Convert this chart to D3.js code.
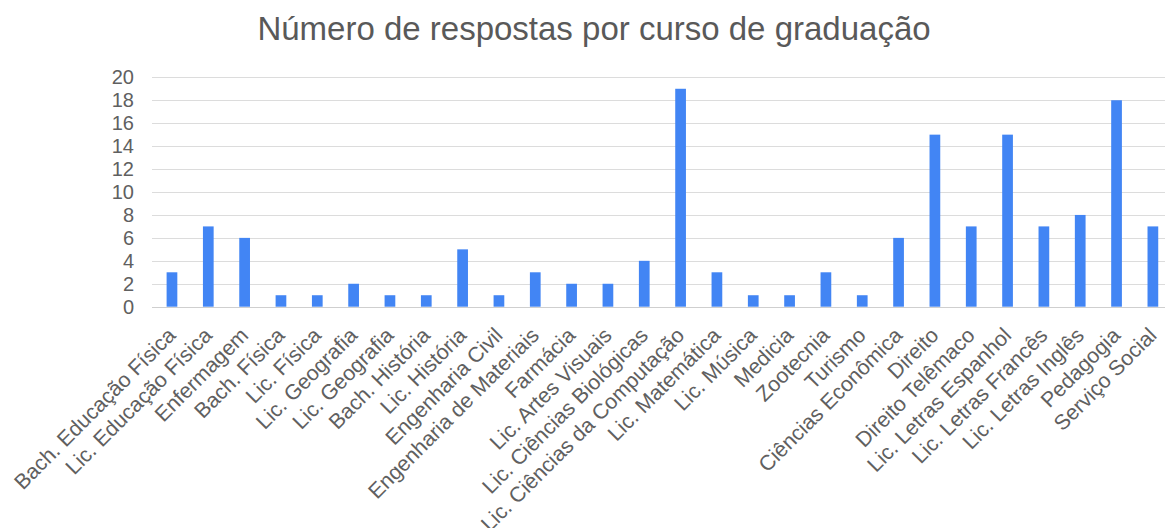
<!DOCTYPE html>
<html>
<head>
<meta charset="utf-8">
<script src="https://cdn.jsdelivr.net/npm/d3@7"></script>
<style>
  html, body { margin: 0; padding: 0; background: #fff; }
  svg { display: block; }
</style>
</head>
<body>
<svg id="chart" width="1165" height="528"></svg>
<script>
const title = "Número de respostas por curso de graduação";
const categories = [
  "Bach. Educação Física", "Lic. Educação Física", "Enfermagem", "Bach. Física",
  "Lic. Física", "Lic. Geografia", "Lic. Geografia", "Bach. História",
  "Lic. História", "Engenharia Civil", "Engenharia de Materiais", "Farmácia",
  "Lic. Artes Visuais", "Lic. Ciências Biológicas", "Lic. Ciências da Computação",
  "Lic. Matemática", "Lic. Música", "Medicia", "Zootecnia", "Turismo",
  "Ciências Econômica", "Direito", "Direito Telêmaco", "Lic. Letras Espanhol",
  "Lic. Letras Francês", "Lic. Letras Inglês", "Pedagogia", "Serviço Social"
];
const values = [3, 7, 6, 1, 1, 2, 1, 1, 5, 1, 3, 2, 2, 4, 19, 3, 1, 1, 3, 1, 6, 15, 7, 15, 7, 8, 18, 7];
const yTicks = [0, 2, 4, 6, 8, 10, 12, 14, 16, 18, 20];

const svg = d3.select("#chart");
const plotLeft = 153.8, plotTop = 77.3, plotBottom = 306.7;
const step = 36.33;
const plotRight = plotLeft + step * categories.length;
const gridRight = 1165;

const x = d3.scaleBand()
  .domain(d3.range(categories.length))
  .range([plotLeft, plotRight])
  .paddingInner(0.705)
  .paddingOuter(0.3525);

const y = d3.scaleLinear().domain([0, 20]).range([plotBottom, plotTop]);

const textColor = "#606060";
const font = "'Liberation Sans', Arial, sans-serif";

// title
svg.append("text")
  .attr("x", 594)
  .attr("y", 40)
  .attr("text-anchor", "middle")
  .attr("font-family", font)
  .attr("font-size", 33)
  .attr("fill", "#595959")
  .text(title);

// gridlines
svg.append("g").selectAll("line")
  .data(yTicks)
  .join("line")
  .attr("x1", 152)
  .attr("x2", gridRight)
  .attr("y1", d => Math.round(y(d)) + 0.5)
  .attr("y2", d => Math.round(y(d)) + 0.5)
  .attr("stroke", d => d === 0 ? "#cfcfcf" : "#dcdcdc")
  .attr("stroke-width", 1);

// y axis labels
const yAxis = d3.axisLeft(y).tickValues(yTicks).tickSize(0).tickPadding(0);
const gy = svg.append("g").attr("transform", "translate(134,0)").call(yAxis);
gy.select(".domain").remove();
gy.selectAll("text")
  .attr("font-family", font)
  .attr("font-size", 20)
  .attr("fill", textColor);

// bars
svg.append("g").selectAll("rect")
  .data(values)
  .join("rect")
  .attr("x", (d, i) => x(i))
  .attr("width", x.bandwidth())
  .attr("y", d => y(d))
  .attr("height", d => y(0) - y(d))
  .attr("fill", "#4285f4");

// x labels
const xAxis = d3.axisBottom(x).tickSize(0).tickFormat(i => categories[i]);
const gx = svg.append("g").attr("transform", `translate(0,${plotBottom})`).call(xAxis);
gx.select(".domain").remove();
gx.selectAll("text")
  .attr("font-family", font)
  .attr("font-size", 21.3)
  .attr("fill", textColor)
  .attr("text-anchor", "end")
  .attr("dy", 0)
  .attr("y", 0)
  .attr("transform", "translate(5,30) rotate(-45)");
</script>
</body>
</html>
